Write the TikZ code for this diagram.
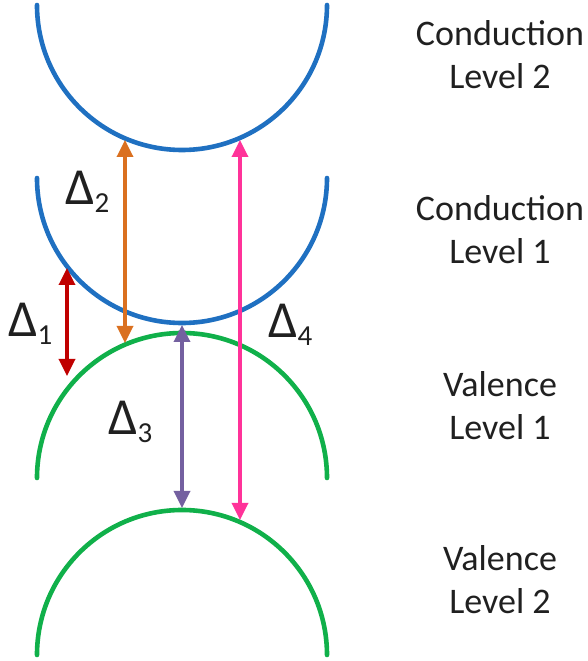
\documentclass[tikz,border=0pt]{standalone}
\usepackage{fontspec}
\setmainfont{Carlito}
\usetikzlibrary{arrows.meta}
\definecolor{bandblue}{HTML}{1F70C1}
\definecolor{bandgreen}{HTML}{10B04A}
\definecolor{gapred}{HTML}{C00000}
\definecolor{gaporange}{HTML}{DA7020}
\definecolor{gappurple}{HTML}{7460A0}
\definecolor{gappink}{HTML}{FF3399}
\definecolor{labeltext}{HTML}{202020}
\newcommand{\gaplabel}[1]{{\fontsize{52}{52}\selectfont Δ}\raisebox{-8pt}{\fontsize{29}{29}\selectfont #1}}
\tikzset{
  band/.style={line width=4.6pt,line cap=round},
  gaparrow/.style={line width=3.4pt,{Triangle[width=16pt,length=17pt]}-{Triangle[width=16pt,length=17pt]},shorten <=2pt,shorten >=2pt},
  levelname/.style={align=center,inner sep=0pt,text=labeltext,font=\fontsize{36}{43}\selectfont}
}
\begin{document}
\begin{tikzpicture}[x=1pt,y=1pt]
				\useasboundingbox (0,0) rectangle (588,661);
				\foreach \Y/\A/\C in {656/360/bandblue,483/360/bandblue,183/0/bandgreen,6/0/bandgreen}
					\draw[band,\C] (37,\Y) arc[start angle=180,end angle=\A,radius=145pt];
				\coordinate (D1top) at (67,395);
				\coordinate (D1bot) at (67,283);
				\coordinate (D2top) at (125,523);
				\coordinate (D2bot) at (125,316);
				\coordinate (D3top) at (182,338);
				\coordinate (D3bot) at (182,151);
				\coordinate (D4top) at (240,523);
				\coordinate (D4bot) at (240,139);
				\draw[gaparrow,gapred] (D1top)--(D1bot);
				\draw[gaparrow,gaporange] (D2top)--(D2bot);
				\draw[gaparrow,gappurple] (D3top)--(D3bot);
				\draw[gaparrow,gappink] (D4top)--(D4bot);
				\node[anchor=base west,inner sep=0pt,text=labeltext] (L1) at (8,324) {\gaplabel{1}};
				\node[anchor=base west,inner sep=0pt,text=labeltext] (L2) at (65,456) {\gaplabel{2}};
				\node[anchor=base west,inner sep=0pt,text=labeltext] (L3) at (108,226) {\gaplabel{3}};
				\node[anchor=base west,inner sep=0pt,text=labeltext] (L4) at (268,323) {\gaplabel{4}};
				\node[levelname] (CL2) at (500,606) {Conduction\\Level 2};
				\node[levelname] (CL1) at (500,431) {Conduction\\Level 1};
				\node[levelname] (VL1) at (500,255) {Valence\\Level 1};
				\node[levelname] (VL2) at (500,81) {Valence\\Level 2};
			\end{tikzpicture}
\end{document}
